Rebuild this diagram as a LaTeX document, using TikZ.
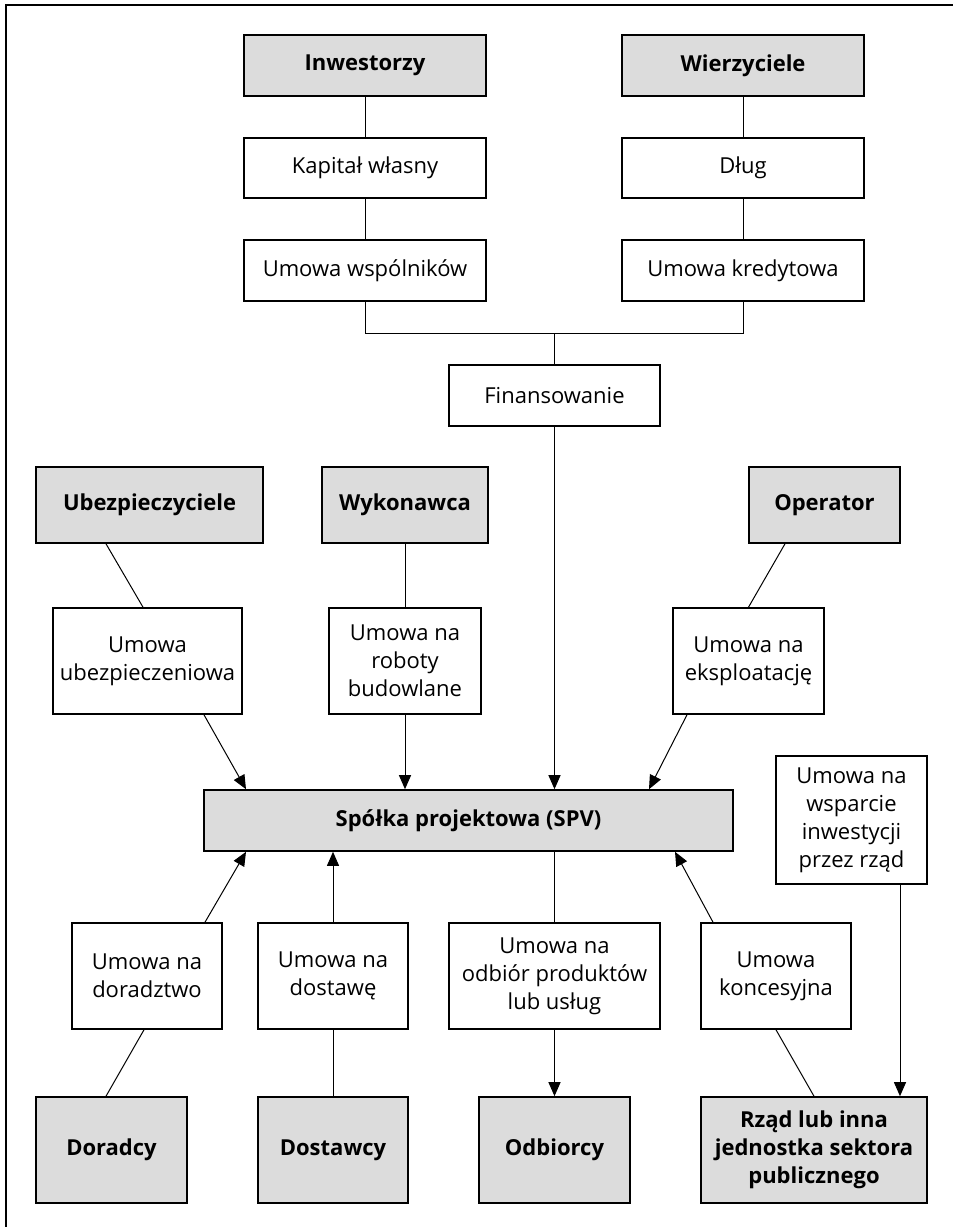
\documentclass[tikz,border=0pt]{standalone}
\usepackage{fontspec}
\setmainfont{Open Sans}
\usepackage{tikz}
\usetikzlibrary{arrows.meta}
\definecolor{boxgray}{RGB}{220,220,220}
\tikzset{
    tnode/.style = {align=center, inner sep=0pt, text centered, draw=black, line width=0.8pt, font=\fontsize{11}{14}\selectfont},
    party/.style = {tnode, fill=boxgray, font=\fontsize{11}{14}\selectfont\bfseries},
    deal/.style = {tnode, fill=white},
    link/.style = {line width=0.5pt},
    flow/.style = {link, ->}
}

\begin{document}
\begin{tikzpicture}
            [x=0.5pt, y=-0.5pt,
            >={Triangle[length=7pt, width=6pt]}]

            \useasboundingbox (0,0) rectangle (953,1227);
            \draw [line width=0.8pt] (953,5) -- (6,5) -- (6,1227);

            % financing side
            \node [party, minimum width=121pt, minimum height=30.5pt] (inv) at (365,65.5) {Inwestorzy};
            \node [party, minimum width=121pt, minimum height=30.5pt] (wie) at (743,65.5) {Wierzyciele};
            \node [deal, minimum width=121pt, minimum height=30pt] (kap) at (365,168) {Kapitał własny};
            \node [deal, minimum width=121pt, minimum height=30pt] (dlug) at (743,168) {Dług};
            \node [deal, minimum width=121pt, minimum height=30.5pt] (uwsp) at (365,270.5) {Umowa wspólników};
            \node [deal, minimum width=121pt, minimum height=30.5pt] (ukred) at (743,270.5) {Umowa kredytowa};
            \node [deal, minimum width=105.5pt, minimum height=30.5pt] (fin) at (554.5,395.5) {Finansowanie};

            % upper parties and contracts
            \node [party, minimum width=113.5pt, minimum height=38pt] (ubez) at (149.5,505) {Ubezpieczyciele};
            \node [party, minimum width=83pt, minimum height=38pt] (wyk) at (405,505) {Wykonawca};
            \node [party, minimum width=75.5pt, minimum height=38pt] (oper) at (824.5,505) {Operator};
            \node [deal, minimum width=94.5pt, minimum height=53pt] (uubez) at (147.5,661) {Umowa\\ubezpieczeniowa};
            \node [deal, minimum width=76pt, minimum height=53pt] (urob) at (405,661) {Umowa na\\roboty\\budowlane};
            \node [deal, minimum width=75.5pt, minimum height=53pt] (ueks) at (748.5,661) {Umowa na\\eksploatację};

            \node [party, minimum width=264.5pt, minimum height=30.5pt] (spv) at (468.5,820.5) {Spółka projektowa (SPV)};
            \node [deal, minimum width=75.5pt, minimum height=64pt] (uwsparcie) at (851.5,820) {Umowa na\\wsparcie\\inwestycji\\przez rząd};

            % lower contracts and parties
            \node [deal, minimum width=75pt, minimum height=53pt] (udor) at (147,976) {Umowa na\\doradztwo};
            \node [deal, minimum width=75pt, minimum height=53pt] (udost) at (333,976) {Umowa na\\dostawę};
            \node [deal, minimum width=105.5pt, minimum height=53pt] (uodb) at (554.5,976) {Umowa na\\odbiór produktów\\lub usług};
            \node [deal, minimum width=75pt, minimum height=53pt] (ukonc) at (776,976) {Umowa\\koncesyjna};
            \node [party, minimum width=75.5pt, minimum height=53pt] (dor) at (111.5,1150) {Doradcy};
            \node [party, minimum width=75pt, minimum height=53pt] (dost) at (333,1150) {Dostawcy};
            \node [party, minimum width=75.5pt, minimum height=53pt] (odb) at (554.5,1150) {Odbiorcy};
            \node [party, minimum width=113pt, minimum height=53pt] (rzad) at (814,1150) {Rząd lub inna\\jednostka sektora\\publicznego};

            \draw [link] (inv) -- (kap);
            \draw [link] (kap) -- (uwsp);
            \draw [link] (wie) -- (dlug);
            \draw [link] (dlug) -- (ukred);
            \draw [link] (uwsp.south) -- ++(0,32) -| (fin.north);
            \draw [link] (ukred.south) -- ++(0,32) -| (fin.north);

            \draw [link] ([xshift=-21.75pt]ubez.south) -- ([xshift=-2.25pt]uubez.north);
            \draw [flow] ([xshift=28.25pt]uubez.south) -- ([xshift=-111.25pt]spv.north);
            \draw [link] (wyk) -- (urob);
            \draw [flow] (urob.south) -- (urob.south |- spv.north);
            \draw [flow] (fin.south) -- (fin.south |- spv.north);
            \draw [link] ([xshift=-19.75pt]oper.south) -- (ueks.north);
            \draw [flow] ([xshift=-30.75pt]ueks.south) -- ([xshift=90.25pt]spv.north);

            \draw [flow] ([xshift=29pt]udor.north) -- ([xshift=-111.25pt]spv.south);
            \draw [link] ([xshift=-1.5pt]udor.south) -- ([xshift=-2.75pt]dor.north);
            \draw [flow] (udost.north) -- (udost.north |- spv.south);
            \draw [link] (udost) -- (dost);
            \draw [link] (uodb.north |- spv.south) -- (uodb.north);
            \draw [flow] (uodb) -- (odb);
            \draw [flow] ([xshift=-31.5pt]ukonc.north) -- ([xshift=103.25pt]spv.south);
            \draw [link] (ukonc.south) -- (rzad.north);
            \draw [flow] ([xshift=24.25pt]uwsparcie.south) -- ([xshift=43pt]rzad.north);
\end{tikzpicture}
\end{document}
